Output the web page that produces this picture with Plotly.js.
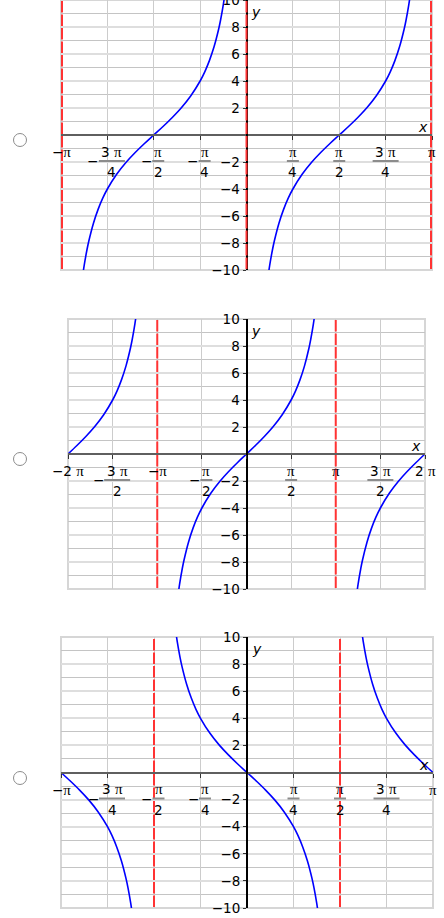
<!DOCTYPE html>
<html>
<head>
<meta charset="utf-8">
<script src="https://cdn.plot.ly/plotly-3.0.1.min.js"></script>
<style>
body { margin: 0; background: #fff; width: 444px; height: 918px; position: relative; overflow: hidden; }
.plot { position: absolute; left: 0; width: 444px; height: 300px; }
.radio { position: absolute; left: 13px; width: 14px; height: 14px; margin: 0; box-sizing: border-box;
         -webkit-appearance: none; appearance: none; border: 1px solid #8c8c8c; border-radius: 50%; background: #fff; }
</style>
</head>
<body>
<input type="radio" name="answer" class="radio" style="top:133px">
<input type="radio" name="answer" class="radio" style="top:452px">
<input type="radio" name="answer" class="radio" style="top:771px">
<div id="plot1" class="plot" style="top:0px"></div>
<div id="plot2" class="plot" style="top:300px"></div>
<div id="plot3" class="plot" style="top:620px"></div>
<script>
// x values are in multiples of pi
// plot 1: asymptotes at -pi, 0, pi
var p1LeftX  = [-0.89, -0.875, -0.86, -0.85, -0.825, -0.8, -0.775, -0.75, -0.7, -0.65, -0.6, -0.55, -0.5,
                -0.45, -0.4, -0.35, -0.3, -0.25, -0.225, -0.2, -0.175, -0.15, -0.14, -0.125, -0.11];
var p1LeftY  = [-11.1, -9.66, -8.5, -7.85, -6.53, -5.51, -4.68, -4, -2.91, -2.04, -1.3, -0.63, 0,
                0.63, 1.3, 2.04, 2.91, 4, 4.68, 5.51, 6.53, 7.85, 8.5, 9.66, 11.1];
var p1RightX = [0.11, 0.125, 0.14, 0.15, 0.175, 0.2, 0.225, 0.25, 0.3, 0.35, 0.4, 0.45, 0.5,
                0.55, 0.6, 0.65, 0.7, 0.75, 0.775, 0.8, 0.825, 0.85, 0.86, 0.875, 0.89];
var p1RightY = [-11.1, -9.66, -8.5, -7.85, -6.53, -5.51, -4.68, -4, -2.91, -2.04, -1.3, -0.63, 0,
                0.63, 1.3, 2.04, 2.91, 4, 4.68, 5.51, 6.53, 7.85, 8.5, 9.66, 11.1];
var p1Asymptotes = [-1, 0, 1];

// plot 2: asymptotes at -pi, pi
var p2LeftX  = [-2, -1.9, -1.8, -1.7, -1.6, -1.5, -1.45, -1.4, -1.35, -1.3, -1.28, -1.25, -1.22];
var p2LeftY  = [0, 0.63, 1.3, 2.04, 2.91, 4, 4.68, 5.51, 6.53, 7.85, 8.5, 9.66, 11.1];
var p2MidX   = [-0.78, -0.75, -0.72, -0.7, -0.65, -0.6, -0.55, -0.5, -0.4, -0.3, -0.2, -0.1, 0,
                0.1, 0.2, 0.3, 0.4, 0.5, 0.55, 0.6, 0.65, 0.7, 0.72, 0.75, 0.78];
var p2MidY   = [-11.1, -9.66, -8.5, -7.85, -6.53, -5.51, -4.68, -4, -2.91, -2.04, -1.3, -0.63, 0,
                0.63, 1.3, 2.04, 2.91, 4, 4.68, 5.51, 6.53, 7.85, 8.5, 9.66, 11.1];
var p2RightX = [1.22, 1.25, 1.28, 1.3, 1.35, 1.4, 1.45, 1.5, 1.6, 1.7, 1.8, 1.9, 2];
var p2RightY = [-11.1, -9.66, -8.5, -7.85, -6.53, -5.51, -4.68, -4, -2.91, -2.04, -1.3, -0.63, 0];
var p2Asymptotes = [-1, 1];

// plot 3: asymptotes at -pi/2, pi/2
var p3LeftX  = [-1, -0.95, -0.9, -0.85, -0.8, -0.75, -0.725, -0.7, -0.675, -0.65, -0.64, -0.625, -0.61];
var p3LeftY  = [0, -0.63, -1.3, -2.04, -2.91, -4, -4.68, -5.51, -6.53, -7.85, -8.5, -9.66, -11.1];
var p3MidX   = [-0.39, -0.375, -0.36, -0.35, -0.325, -0.3, -0.275, -0.25, -0.2, -0.15, -0.1, -0.05, 0,
                0.05, 0.1, 0.15, 0.2, 0.25, 0.275, 0.3, 0.325, 0.35, 0.36, 0.375, 0.39];
var p3MidY   = [11.1, 9.66, 8.5, 7.85, 6.53, 5.51, 4.68, 4, 2.91, 2.04, 1.3, 0.63, 0,
                -0.63, -1.3, -2.04, -2.91, -4, -4.68, -5.51, -6.53, -7.85, -8.5, -9.66, -11.1];
var p3RightX = [0.61, 0.625, 0.64, 0.65, 0.675, 0.7, 0.725, 0.75, 0.8, 0.85, 0.9, 0.95, 1];
var p3RightY = [11.1, 9.66, 8.5, 7.85, 6.53, 5.51, 4.68, 4, 2.91, 2.04, 1.3, 0.63, 0];
var p3Asymptotes = [-0.5, 0.5];

// ticks
var quarterTicks = [-1, -0.75, -0.5, -0.25, 0, 0.25, 0.5, 0.75, 1];
var quarterLabelVals = [-1, -0.75, -0.5, -0.25, 0.25, 0.5, 0.75, 1];
var quarterLabelNum  = ["π", "3 π", "π", "π", "π", "π", "3 π", "π"];
var quarterLabelDen  = ["", "4", "2", "4", "4", "2", "4", ""];
var halfTicks = [-2, -1.5, -1, -0.5, 0, 0.5, 1, 1.5, 2];
var halfLabelVals = [-2, -1.5, -1, -0.5, 0.5, 1, 1.5, 2];
var halfLabelNum  = ["2 π", "3 π", "π", "π", "π", "π", "3 π", "2 π"];
var halfLabelDen  = ["", "2", "", "2", "2", "", "2", ""];
var yTicks = [-10, -8, -6, -4, -2, 2, 4, 6, 8, 10];
var yMinorTicks = [-9, -7, -5, -3, -1, 1, 3, 5, 7, 9];

var FONT = "DejaVu Sans";
var FSIZE = 13.5;

function piText(s) {
    return s.replace("π", "<span style='font-family:Liberation Serif;font-size:15px'>π</span>");
}

function label(x, text, dx, dy) {
    return {
        xref: "x", yref: "y", x: x, y: 0, text: text, showarrow: false,
        xshift: dx, yshift: dy, xanchor: "center", yanchor: "middle",
        font: {family: FONT, size: FSIZE, color: "#000"}
    };
}

function drawPlot(id, branches, xRange, gridVals, labelVals, labelNum, labelDen, asymptotes, margin) {
    var traces = branches.map(function(b) {
        return {
            x: b[0], y: b[1], mode: "lines", hoverinfo: "skip",
            line: {color: "#0000ff", width: 1.6, shape: "spline", smoothing: 1}
        };
    });

    var shapes = [{
        type: "rect", xref: "paper", yref: "paper", x0: 0, x1: 1, y0: 0, y1: 1,
        layer: "below", line: {color: "#d6d6d6", width: 2}
    }];
    // red dashed asymptotes, gaps fall on every horizontal grid line
    asymptotes.forEach(function(a) {
        // lines on the frame get clipped in half, so make them wider
        var atEdge = (a === xRange[0] || a === xRange[1]);
        shapes.push({
            type: "line", xref: "x", yref: "paper", x0: a, x1: a, y0: 0, y1: 1,
            layer: "above", line: {color: "#ff3333", width: atEdge ? 4 : 2, dash: "0px,1px,11.5px,1px"}
        });
    });

    var annotations = [];
    labelVals.forEach(function(v, i) {
        var neg = v < 0;
        if (!labelDen[i]) {
            annotations.push(label(v, (neg ? "−" : "") + piText(labelNum[i]), 0, -17));
            return;
        }
        var half = labelNum[i].length > 1 ? 13 : 6;
        var shift = neg ? 4.5 : 0;
        annotations.push(label(v, piText(labelNum[i]), shift, -16.5));
        annotations.push(label(v, labelDen[i], shift, -37));
        shapes.push({
            type: "line", xref: "x", yref: "y", xsizemode: "pixel", ysizemode: "pixel",
            xanchor: v, yanchor: 0, x0: shift - half, x1: shift + half, y0: -26, y1: -26,
            line: {color: "#8c8c8c", width: 2}
        });
        if (neg) annotations.push(label(v, "−", shift - half - 6, -26));
    });

    annotations.push({
        xref: "paper", yref: "y", x: 1, y: 0, xshift: -9.5, yshift: 8, text: "<i>x</i>",
        showarrow: false, xanchor: "center", yanchor: "middle",
        font: {family: FONT, size: 14, color: "#000"}
    });
    annotations.push({
        xref: "x", yref: "paper", x: 0, y: 1, xshift: 9.5, yshift: -11.5, text: "<i>y</i>",
        showarrow: false, xanchor: "center", yanchor: "middle",
        font: {family: FONT, size: 14, color: "#000"}
    });

    Plotly.newPlot(id, traces, {
        width: 444, height: 300,
        margin: {l: margin[0], r: margin[1], t: margin[2], b: margin[3], autoexpand: false},
        paper_bgcolor: "rgba(0,0,0,0)",
        plot_bgcolor: "#fff",
        showlegend: false,
        xaxis: {
            range: xRange, anchor: "free", position: 0.5, fixedrange: true,
            showline: true, linecolor: "#5f5f5f", linewidth: 2,
            ticks: "outside", ticklen: 4, tickwidth: 1, tickcolor: "#333",
            tickmode: "array", tickvals: gridVals, showticklabels: false,
            showgrid: true, gridcolor: "#cccccc", gridwidth: 1, zeroline: false
        },
        yaxis: {
            range: [-10, 10], anchor: "free", position: 0.5, fixedrange: true,
            showline: true, linecolor: "#000", linewidth: 2,
            ticks: "outside", ticklen: 3, tickwidth: 1, tickcolor: "#333",
            tickmode: "array", tickvals: yTicks, ticklabeloverflow: "allow",
            tickfont: {family: FONT, size: FSIZE, color: "#000"},
            showgrid: true, gridcolor: "#dedede", gridwidth: 2, zeroline: false,
            minor: {tickmode: "array", tickvals: yMinorTicks, ticks: "", showgrid: true,
                    gridcolor: "#c4c4c4", gridwidth: 1}
        },
        shapes: shapes,
        annotations: annotations
    }, {staticPlot: true});
}

drawPlot("plot1", [[p1LeftX, p1LeftY], [p1RightX, p1RightY]], [-1, 1], quarterTicks,
         quarterLabelVals, quarterLabelNum, quarterLabelDen, p1Asymptotes, [61, 12, 0, 30]);
drawPlot("plot2", [[p2LeftX, p2LeftY], [p2MidX, p2MidY], [p2RightX, p2RightY]], [-2, 2], halfTicks,
         halfLabelVals, halfLabelNum, halfLabelDen, p2Asymptotes, [68, 19, 19, 11]);
drawPlot("plot3", [[p3LeftX, p3LeftY], [p3MidX, p3MidY], [p3RightX, p3RightY]], [-1, 1], quarterTicks,
         quarterLabelVals, quarterLabelNum, quarterLabelDen, p3Asymptotes, [61, 11, 17, 12]);
</script>
</body>
</html>
